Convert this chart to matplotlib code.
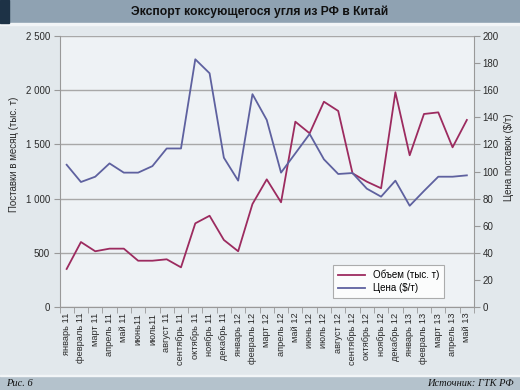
import matplotlib
matplotlib.use("Agg")
import matplotlib.pyplot as plt
from matplotlib.patches import Rectangle
from matplotlib.ticker import FuncFormatter

plt.rcParams['font.family'] = ['Liberation Sans', 'DejaVu Sans']

# data
months = ['январь 11', 'февраль 11', 'март 11', 'апрель 11', 'май 11', 'июнь11',
          'июль11', 'август 11', 'сентябрь 11', 'октябрь 11', 'ноябрь 11', 'декабрь 11',
          'январь 12', 'февраль 12', 'март 12', 'апрель 12', 'май 12', 'июнь 12',
          'июль 12', 'август 12', 'сентябрь 12', 'октябрь 12', 'ноябрь 12', 'декабрь 12',
          'январь 13', 'февраль 13', 'март 13', 'апрель 13', 'май 13']
volume = [353, 601, 516, 540, 540, 429, 429, 442, 368, 773, 843, 620,
          516, 951, 1178, 967, 1709, 1602, 1893, 1808, 1234, 1157, 1096, 1980,
          1400, 1780, 1795, 1473, 1725]
price = [105, 92.3, 96.2, 106, 99.2, 99.2, 104, 117, 117, 182.7, 172.4, 110.2,
         93.3, 157, 138, 99.2, 113.4, 127.7, 109, 98.2, 98.9, 87.4, 81.5, 93.3,
         74.8, 85.7, 96.2, 96.2, 97.2]

red = '#9c2b5f'
blue = '#5e619f'
bg = '#e2e8ec'

fig = plt.figure(figsize=(5.2, 3.9), dpi=100, facecolor=bg)

# header / footer bands
fig.patches.append(Rectangle((0, 1 - 22.5/390), 1, 22.5/390, transform=fig.transFigure,
                             color='#8fa2b2', zorder=0))
fig.patches.append(Rectangle((0, 1 - 22.5/390), 9/520, 22.5/390, transform=fig.transFigure,
                             color='#1d3246', zorder=1))
fig.patches.append(Rectangle((0, 1 - 25/390), 1, 2.5/390, transform=fig.transFigure,
                             color='#f2f5f7', zorder=0))
fig.patches.append(Rectangle((0, 0), 1, 14/390, transform=fig.transFigure,
                             color='#b4c2cc', zorder=0))
fig.patches.append(Rectangle((0, 14/390), 1, 1.5/390, transform=fig.transFigure,
                             color='#f2f5f7', zorder=0))

fig.text(0.5, 1 - 11.5/390, 'Экспорт коксующегося угля из РФ в Китай', ha='center', va='center',
         fontsize=8.7, fontweight='bold', color='#111111')
fig.text(6/520, 6.5/390, 'Рис. 6', ha='left', va='center', fontsize=7.5,
         family='Liberation Serif', style='italic', color='#111111')
fig.text(514/520, 6.5/390, 'Источник: ГТК РФ', ha='right', va='center', fontsize=7.5,
         family='Liberation Serif', style='italic', color='#111111')

ax = fig.add_axes([59.5/520, 82.7/390, 414.5/520, 271.5/390])
ax.set_facecolor('#eef2f5')
x = list(range(len(months)))
l1, = ax.plot(x, volume, color=red, lw=1.3, label='Объем (тыс. т)')
ax.set_ylim(0, 2500)
ax.set_xlim(-0.5, len(months) - 0.5)
ax.set_yticks([0, 500, 1000, 1500, 2000, 2500])
ax.yaxis.set_major_formatter(FuncFormatter(lambda v, p: f'{int(v):,}'.replace(',', ' ')))
ax.grid(axis='y', color='#a8a8a8', lw=1)
ax.set_axisbelow(True)
ax.set_xticks(x)
ax.set_xticklabels(months, rotation=90, fontsize=6.7, color='#2a2a2a')
ax.set_xticks([i - 0.5 for i in range(len(months) + 1)], minor=True)
ax.tick_params(axis='x', which='major', length=0, pad=4)
ax.tick_params(axis='x', which='minor', length=4, color='#999999')
ax.tick_params(axis='y', length=4, color='#999999', labelsize=7, labelcolor='#2a2a2a', pad=3)
for s in ['top', 'right']:
    ax.spines[s].set_visible(False)
for s in ['left', 'bottom']:
    ax.spines[s].set_color('#999999')

ax2 = ax.twinx()
l2, = ax2.plot(x, price, color=blue, lw=1.3, label='Цена ($/т)')
ax2.set_ylim(0, 200)
ax2.set_yticks(range(0, 201, 20))
ax2.tick_params(axis='y', length=4, color='#999999', labelsize=7, labelcolor='#2a2a2a', pad=2)
for s in ['top', 'left', 'bottom']:
    ax2.spines[s].set_visible(False)
ax2.spines['right'].set_color('#999999')

fig.text(14/520, 1 - 154/390, 'Поставки в месяц (тыс. т)', rotation=90, ha='center', va='center',
         fontsize=7, color='#2a2a2a')
fig.text(509/520, 1 - 157/390, 'Цена поставок ($/т)', rotation=90, ha='center', va='center',
         fontsize=7, color='#2a2a2a')

leg = ax.legend([l1, l2], ['Объем (тыс. т)', 'Цена ($/т)'], loc='upper left',
                bbox_to_anchor=(333/520, 1 - 265/390), bbox_transform=fig.transFigure,
                fontsize=7, frameon=True, fancybox=False, handlelength=2.8,
                borderpad=0.5, labelspacing=0.3, handletextpad=0.8, borderaxespad=0)
leg.get_frame().set_edgecolor('#999999')
leg.get_frame().set_linewidth(0.8)
leg.get_frame().set_facecolor('white')

fig.savefig('out.png', dpi=100, facecolor=bg)
